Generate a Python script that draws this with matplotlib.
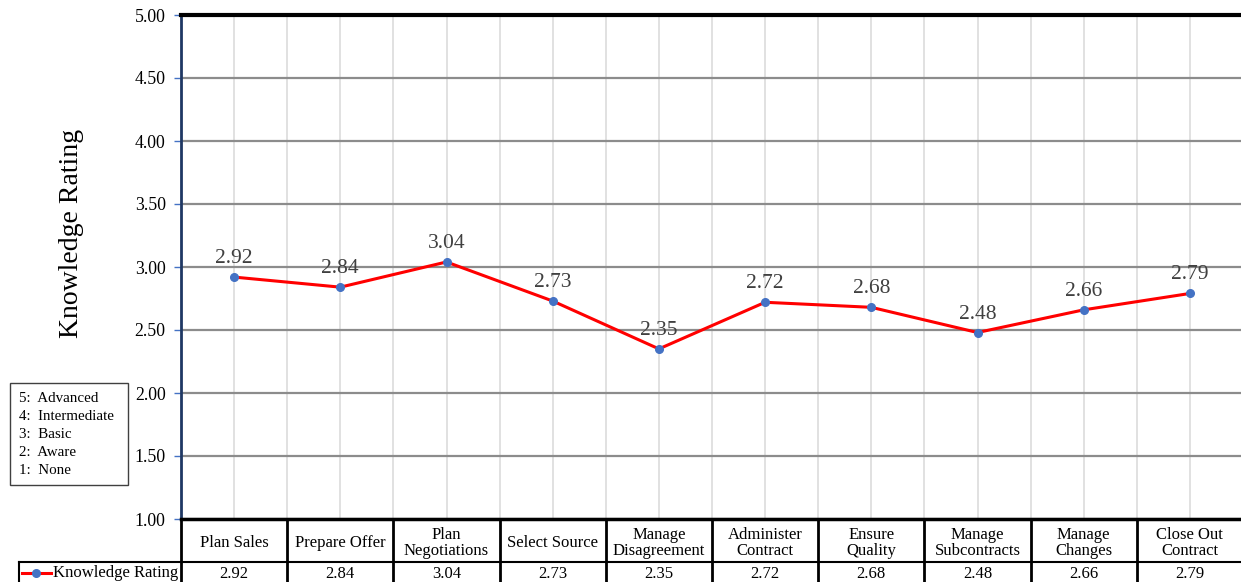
import matplotlib.pyplot as plt
import numpy as np

categories = ["Plan Sales", "Prepare Offer", "Plan\nNegotiations", "Select Source",
              "Manage\nDisagreement", "Administer\nContract", "Ensure\nQuality",
              "Manage\nSubcontracts", "Manage\nChanges", "Close Out\nContract"]
ratings = [2.92, 2.84, 3.04, 2.73, 2.35, 2.72, 2.68, 2.48, 2.66, 2.79]
scale_labels = ["5:  Advanced", "4:  Intermediate", "3:  Basic", "2:  Aware", "1:  None"]

plt.rcParams['font.family'] = ['Liberation Serif', 'DejaVu Serif']

W, H = 1241, 582
fig = plt.figure(figsize=(W / 100, H / 100), dpi=100)
ax = fig.add_axes([181 / W, 63 / H, 1062 / W, 504 / H])

x = np.arange(len(categories))
ax.plot(x, ratings, color="#ff0000", lw=2.2, marker="o", ms=5.5,
        mfc="#4472c4", mec="#4472c4", zorder=3)
for xi, v in zip(x, ratings):
    ax.annotate(f"{v:.2f}", (xi, v), xytext=(0, 18.5), textcoords="offset pixels",
                ha="center", va="center", fontsize=15.5, color="#404040")

ax.set_xlim(-0.5, len(categories) - 0.5)
ax.set_ylim(1, 5)
ax.set_yticks(np.arange(1, 5.01, 0.5))
ax.set_yticklabels([f"{t:.2f}" for t in np.arange(1, 5.01, 0.5)])
ax.tick_params(axis="y", length=5, width=1, color="#4472c4", labelsize=12.8, pad=6)
ax.set_xticks([])
ax.set_xticks(np.arange(-0.5, len(categories), 0.5), minor=True)
ax.tick_params(axis="x", which="both", length=0, labelbottom=False)
ax.grid(axis="y", color="#8c8c8c", lw=1.6)
ax.grid(axis="x", which="minor", color="#dcdcdc", lw=1.2)
ax.set_axisbelow(True)

ax.spines["top"].set_color("black")
ax.spines["top"].set_linewidth(3)
ax.spines["right"].set_visible(False)
ax.spines["left"].set_color("#1f3864")
ax.spines["left"].set_linewidth(2)
ax.spines["bottom"].set_color("black")
ax.spines["bottom"].set_linewidth(2.5)

fig.text(72 / W, 1 - 233 / H, "Knowledge Rating", rotation=90, fontsize=20,
         ha="center", va="center")

# data table below the plot
tr = ax.get_xaxis_transform()
row1 = -43 / 504
row2 = -80 / 504
for b in np.arange(-0.5, len(categories), 1.0):
    ax.plot([b, b], [0, row2], transform=tr, color="black", lw=2, clip_on=False)
ax.plot([-0.5, len(categories)], [row1, row1], transform=tr, color="black", lw=1.5, clip_on=False)
lab_left = -0.5 - 162 / 106.2
ax.plot([lab_left, -0.5], [row1, row1], transform=tr, color="black", lw=1.5, clip_on=False)
ax.plot([lab_left, lab_left], [row1, row2], transform=tr, color="black", lw=1.5, clip_on=False)
for xi, c, v in zip(x, categories, ratings):
    ax.text(xi, -24 / 504, c, transform=tr, ha="center", va="center", fontsize=12,
            linespacing=1.05)
    ax.text(xi, -55 / 504, f"{v:.2f}", transform=tr, ha="center", va="center", fontsize=12)

# legend key in the row label cell
ly = 1 - 573 / H
fig.add_artist(plt.Line2D([22 / W, 51 / W], [ly, ly], color="#ff0000", lw=2.2))
fig.add_artist(plt.Line2D([36 / W], [ly], marker="o", ms=5.5, color="#4472c4"))
fig.text(53 / W, ly, "Knowledge Rating", ha="left", va="center", fontsize=12)

# rating scale box
fig.add_artist(plt.Rectangle((10 / W, 1 - 485 / H), 118 / W, 102 / H, fill=False,
                             edgecolor="#404040", lw=1))
for i, s in enumerate(scale_labels):
    fig.text(19 / W, 1 - (398 + 18 * i) / H, s, ha="left", va="center", fontsize=10.8)

fig.savefig("out.png", dpi=100)
